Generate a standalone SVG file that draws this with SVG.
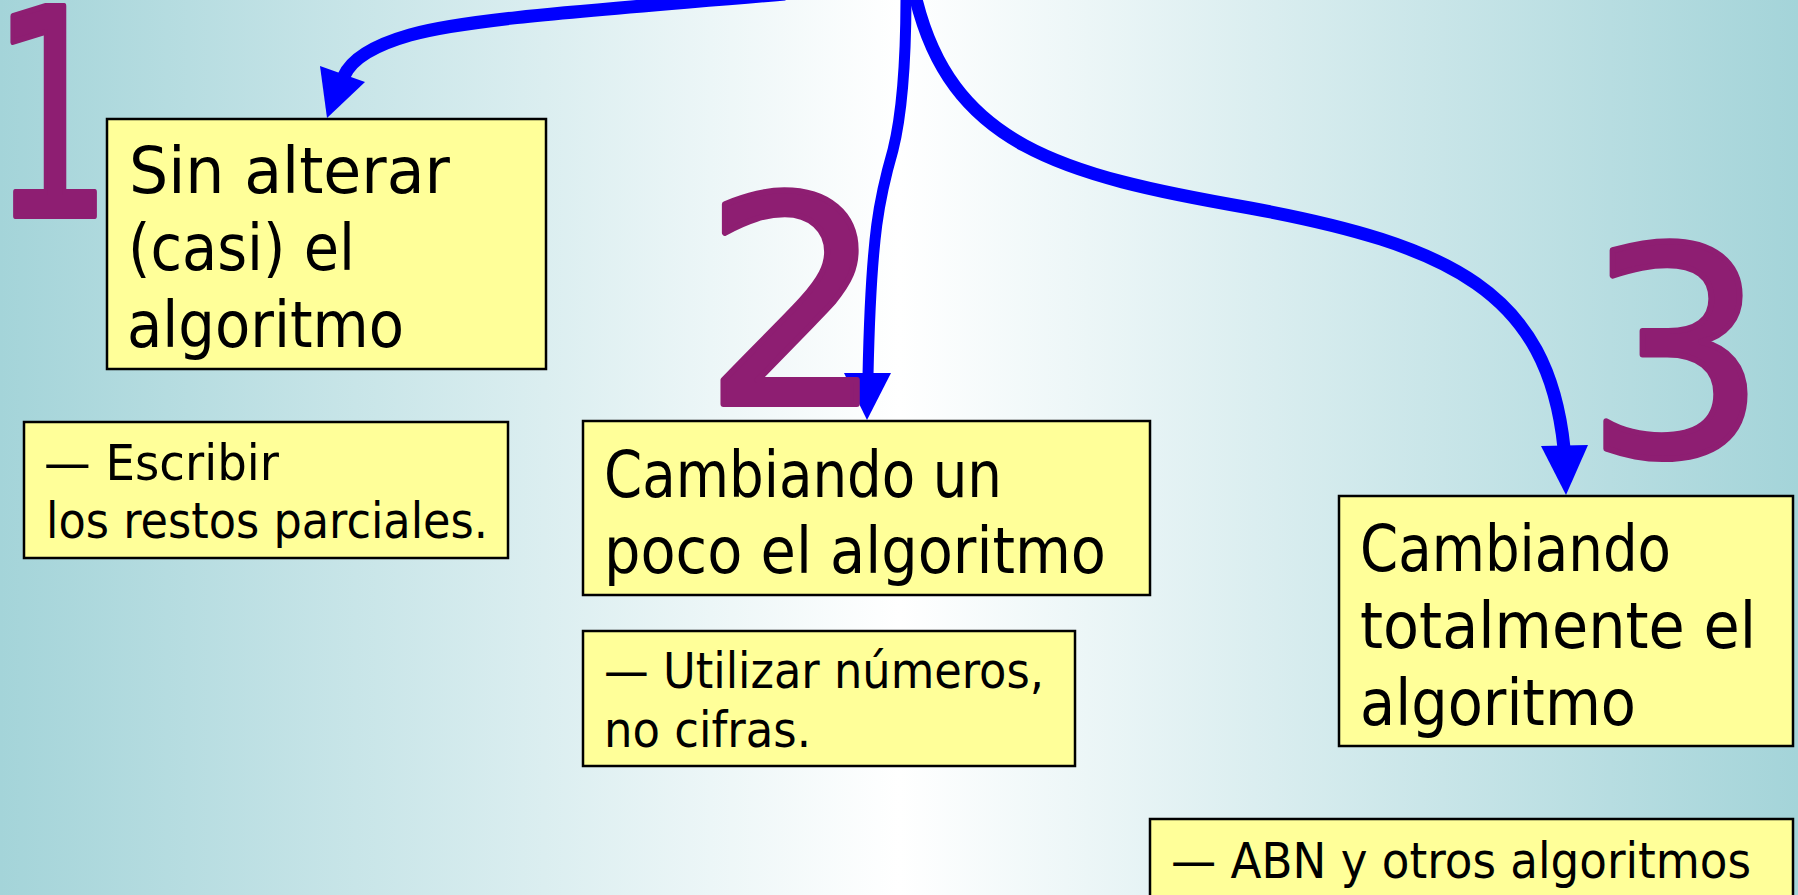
<svg xmlns="http://www.w3.org/2000/svg" width="1798" height="895" viewBox="0 0 1798 895">
<defs>
<linearGradient id="bg" x1="0" y1="0" x2="1" y2="0">
<stop offset="0" stop-color="#A4D4D9"/>
<stop offset="0.5" stop-color="#FFFFFF"/>
<stop offset="1" stop-color="#A4D4D9"/>
</linearGradient>
<style>
.box{fill:#FFFF99;stroke:#000;stroke-width:2.5}
.t{font-family:"Comic Sans MS","DejaVu Sans",sans-serif;fill:#000}
.big{font-size:64px}
.small{font-size:50px}
.num{font-family:"Comic Sans MS","DejaVu Sans",sans-serif;font-size:288px;fill:#8E1E72;stroke:#8E1E72;stroke-width:6;stroke-linejoin:round;text-anchor:middle}
.arr{fill:none;stroke:#0000FF;stroke-width:13;stroke-linecap:butt}
.head{fill:#0000FF}
</style>
</defs>
<rect x="0" y="0" width="1798" height="895" fill="url(#bg)"/>

<g id="connectors">
<path class="arr" d="M 785 -6 C 600 10, 470 18, 410 35 C 375 45, 352 58, 344 76"/>
<polygon class="head" points="320,66 365,82 327,118"/>
<path class="arr" d="M 906 -5 C 906 60, 903 110, 893 150 C 880 195, 871 230, 868 376" style="stroke-width:11"/>
<polygon class="head" points="844,373 891,373 867,420"/>
<path class="arr" d="M 915 -5 C 950 145, 1060 175, 1250 208 C 1450 245, 1548 292, 1564 448"/>
<polygon class="head" points="1541,446 1588,445 1566,495"/>
</g>

<g id="num1"><text class="num" transform="translate(52,216) scale(0.66,1)" x="0" y="0">1</text></g>
<g id="num2"><text class="num" x="794" y="404">2</text></g>
<g id="num3"><text class="num" x="1676" y="455">3</text></g>

<g id="node1">
<rect class="box" x="107" y="119" width="439" height="250"/>
<text class="t big" x="129" y="193" textLength="321" lengthAdjust="spacingAndGlyphs">Sin alterar</text>
<text class="t big" x="128" y="270" textLength="227" lengthAdjust="spacingAndGlyphs">(casi) el</text>
<text class="t big" x="127" y="347" textLength="277" lengthAdjust="spacingAndGlyphs">algoritmo</text>
</g>

<g id="note1">
<rect class="box" x="24" y="422" width="484" height="136"/>
<text class="t small" x="44" y="480" textLength="235" lengthAdjust="spacingAndGlyphs">— Escribir</text>
<text class="t small" x="46" y="538" textLength="442" lengthAdjust="spacingAndGlyphs">los restos parciales.</text>
</g>

<g id="node2">
<rect class="box" x="583" y="421" width="567" height="174"/>
<text class="t big" x="604" y="497" textLength="398" lengthAdjust="spacingAndGlyphs">Cambiando un</text>
<text class="t big" x="604" y="573" textLength="502" lengthAdjust="spacingAndGlyphs">poco el algoritmo</text>
</g>

<g id="note2">
<rect class="box" x="583" y="631" width="492" height="135"/>
<text class="t small" x="604" y="688" textLength="440" lengthAdjust="spacingAndGlyphs">— Utilizar números,</text>
<text class="t small" x="604" y="747" textLength="207" lengthAdjust="spacingAndGlyphs">no cifras.</text>
</g>

<g id="node3">
<rect class="box" x="1339" y="496" width="454" height="250"/>
<text class="t big" x="1360" y="571" textLength="311" lengthAdjust="spacingAndGlyphs">Cambiando</text>
<text class="t big" x="1360" y="648" textLength="396" lengthAdjust="spacingAndGlyphs">totalmente el</text>
<text class="t big" x="1360" y="725" textLength="276" lengthAdjust="spacingAndGlyphs">algoritmo</text>
</g>

<g id="note3">
<rect class="box" x="1150" y="819" width="643" height="100"/>
<text class="t small" x="1171" y="878" textLength="580" lengthAdjust="spacingAndGlyphs">— ABN y otros algoritmos</text>
</g>
</svg>
